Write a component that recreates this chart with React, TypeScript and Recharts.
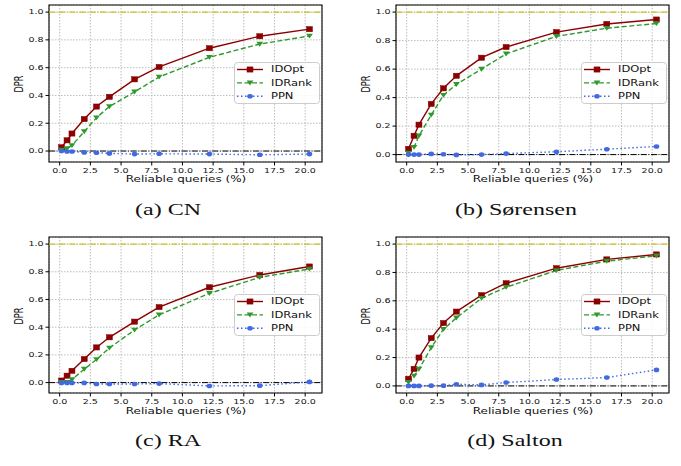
import { LineChart, Line, XAxis, YAxis, CartesianGrid, ReferenceLine, ReferenceArea, Legend } from "recharts";

// reliable queries (%) sampled in every panel
const XS = [0.15, 0.6, 1.0, 2.0, 3.0, 4.05, 6.1, 8.1, 12.2, 16.3, 20.35];
const X_TICKS = [0, 2.5, 5, 7.5, 10, 12.5, 15, 17.5, 20];
const Y_TICKS = [0, 0.2, 0.4, 0.6, 0.8, 1.0];

const CN_OPT = [0.027, 0.077, 0.126, 0.23, 0.32, 0.39, 0.516, 0.605, 0.74, 0.826, 0.877];
const CN_RANK = [0.007, 0.017, 0.04, 0.14, 0.24, 0.32, 0.426, 0.533, 0.675, 0.77, 0.828];
const CN_PPN = [0, -0.003, -0.003, -0.01, -0.012, -0.017, -0.022, -0.02, -0.022, -0.027, -0.022];

const SOR_OPT = [0.04, 0.132, 0.21, 0.356, 0.465, 0.553, 0.68, 0.755, 0.86, 0.917, 0.948];
const SOR_RANK = [0.01, 0.052, 0.132, 0.278, 0.417, 0.493, 0.6, 0.707, 0.83, 0.887, 0.92];
const SOR_PPN = [0, 0, 0, 0.005, 0.002, -0.002, 0, 0.007, 0.02, 0.038, 0.057];

const RA_OPT = [0.015, 0.05, 0.085, 0.17, 0.254, 0.327, 0.44, 0.545, 0.688, 0.777, 0.838];
const RA_RANK = [0.002, 0.002, 0.022, 0.097, 0.167, 0.25, 0.38, 0.489, 0.644, 0.76, 0.82];
const RA_PPN = [-0.002, -0.002, -0.002, -0.002, -0.01, -0.01, -0.01, -0.007, -0.024, -0.022, 0.005];

const SAL_OPT = [0.05, 0.12, 0.2, 0.337, 0.443, 0.524, 0.64, 0.724, 0.83, 0.892, 0.927];
const SAL_RANK = [0.026, 0.07, 0.118, 0.27, 0.4, 0.48, 0.618, 0.696, 0.814, 0.88, 0.917];
const SAL_PPN = [0, 0, 0, 0.002, 0.002, 0.012, 0.007, 0.024, 0.045, 0.059, 0.113];

const X_DOMAIN = [-0.87, 21.37];

const RED = "#8b0000";
const GREEN = "#2e9a2e";
const BLUE = "#4169e1";
const FONT = "DejaVu Sans";
// the source figure is squashed vertically, text included
const SQ = 0.68;

function rows(opt: number[], rank: number[], ppn: number[]) {
  return XS.map((x, i) => ({ x, opt: opt[i], rank: rank[i], ppn: ppn[i] }));
}

const Square = (p: any) =>
  p.cx == null ? null : (
    <rect key={`s${p.index}`} x={p.cx - 3} y={p.cy - 2.6} width={6} height={5.2} fill={RED} stroke={RED} strokeWidth={0.5} />
  );
const Tri = (p: any) =>
  p.cx == null ? null : (
    <path key={`t${p.index}`} d={`M${p.cx - 3.4},${p.cy - 2.3} L${p.cx + 3.4},${p.cy - 2.3} L${p.cx},${p.cy + 2.6} Z`} fill={GREEN} />
  );
const Dot = (p: any) =>
  p.cx == null ? null : <ellipse key={`c${p.index}`} cx={p.cx} cy={p.cy} rx={2.8} ry={2.3} fill={BLUE} />;

function XTick({ x, y, payload }: any) {
  return (
    <g transform={`translate(${x},${y})`}>
      <text transform={`scale(1,${SQ})`} textAnchor="middle" dy="0.8em" fontSize={9.5} fontFamily={FONT} fill="#111">
        {payload.value.toFixed(1)}
      </text>
    </g>
  );
}

function YTick({ x, y, payload }: any) {
  return (
    <g transform={`translate(${x},${y})`}>
      <text transform={`scale(1,${SQ})`} textAnchor="end" dy="0.36em" fontSize={9.5} fontFamily={FONT} fill="#111">
        {payload.value.toFixed(1)}
      </text>
    </g>
  );
}

function LegendBox() {
  const items = [
    { name: "IDOpt", color: RED, dash: undefined, mark: "s" },
    { name: "IDRank", color: GREEN, dash: "5 2.5", mark: "t" },
    { name: "PPN", color: BLUE, dash: "1.5 2.5", mark: "c" },
  ];
  return (
    <svg width={86} height={42} style={{ display: "block" }}>
      <rect x={0.5} y={0.5} width={85} height={41} rx={3} fill="rgba(255,255,255,0.85)" stroke="#cccccc" />
      {items.map((it, i) => {
        const cy = 7.5 + i * 13.4;
        return (
          <g key={it.name}>
            <line x1={3} x2={29} y1={cy} y2={cy} stroke={it.color} strokeWidth={1.4} strokeDasharray={it.dash} />
            {it.mark === "s" && Square({ cx: 16, cy, index: 0 })}
            {it.mark === "t" && Tri({ cx: 16, cy, index: 0 })}
            {it.mark === "c" && Dot({ cx: 16, cy, index: 0 })}
            <g transform={`translate(37,${cy})`}>
              <text transform={`scale(1,${SQ})`} dy="0.36em" fontSize={11.5} fontFamily={FONT} fill="#111">
                {it.name}
              </text>
            </g>
          </g>
        );
      })}
    </svg>
  );
}

function Panel({ left, top, width, height, yDomain, data }: any) {
  return (
    <div style={{ position: "absolute", left, top, width, height }}>
      <LineChart width={width} height={height} data={data} margin={{ top: 5, right: width - 322, left: 9, bottom: 0 }}>
        <CartesianGrid stroke="#b4b4b4" strokeDasharray="1.5 1.5" strokeWidth={0.9} />
        <XAxis
          dataKey="x"
          type="number"
          domain={X_DOMAIN}
          allowDataOverflow
          ticks={X_TICKS}
          interval={0}
          height={38}
          axisLine={false}
          tickSize={3.5}
          tickLine={{ stroke: "#000" }}
          tick={XTick}
        />
        <YAxis
          type="number"
          domain={yDomain}
          allowDataOverflow
          ticks={Y_TICKS}
          interval={0}
          width={40}
          axisLine={false}
          tickSize={3.5}
          tickLine={{ stroke: "#000" }}
          tick={YTick}
        />
        <ReferenceLine y={1} stroke="#c8c41a" strokeWidth={1.3} strokeDasharray="6 1.6 1 1.6" />
        <ReferenceLine y={0} stroke="#000" strokeWidth={1} strokeDasharray="6 1.6 1 1.6" />
        <Line dataKey="opt" stroke={RED} strokeWidth={1.4} dot={Square} isAnimationActive={false} />
        <Line dataKey="rank" stroke={GREEN} strokeWidth={1.4} strokeDasharray="5 2.5" dot={Tri} isAnimationActive={false} />
        <Line dataKey="ppn" stroke={BLUE} strokeWidth={1.4} strokeDasharray="1.5 2.5" dot={Dot} isAnimationActive={false} />
        <ReferenceArea
          x1={X_DOMAIN[0]}
          x2={X_DOMAIN[1]}
          y1={yDomain[0]}
          y2={yDomain[1]}
          fill="none"
          fillOpacity={0}
          stroke="#000"
          strokeWidth={1.1}
        />
        <Legend
          layout="horizontal"
          align="center"
          verticalAlign="middle"
          content={LegendBox}
          wrapperStyle={{ left: 234, top: 62, width: 86, height: 42 }}
        />
      </LineChart>
      <div
        style={{
          position: "absolute",
          left: 186,
          top: 179,
          transform: `translate(-50%,-50%) scaleY(${SQ})`,
          fontFamily: FONT,
          fontSize: 12,
          whiteSpace: "nowrap",
          color: "#111",
          lineHeight: 1,
        }}
      >
        Reliable queries (%)
      </div>
      <div
        style={{
          position: "absolute",
          left: 19,
          top: 84,
          transform: `translate(-50%,-50%) scaleY(${SQ}) rotate(-90deg)`,
          fontFamily: FONT,
          fontSize: 12,
          whiteSpace: "nowrap",
          color: "#111",
          lineHeight: 1,
        }}
      >
        DPR
      </div>
    </div>
  );
}

function Caption({ x, y, text }: any) {
  return (
    <div
      style={{
        position: "absolute",
        left: x,
        top: y,
        transform: `translate(-50%,-50%) scaleY(${SQ})`,
        fontFamily: "Liberation Serif",
        fontSize: 24,
        whiteSpace: "nowrap",
        color: "#111",
        lineHeight: 1,
      }}
    >
      {text}
    </div>
  );
}

export default function App() {
  return (
    <div style={{ position: "absolute", left: 0, top: 0, width: 681, height: 466, background: "#fff", overflow: "hidden" }}>
      <Panel left={0} top={0} width={340} height={200} yDomain={[-0.079, 1.051]} data={rows(CN_OPT, CN_RANK, CN_PPN)} />
      <Panel left={347} top={0} width={334} height={200} yDomain={[-0.052, 1.05]} data={rows(SOR_OPT, SOR_RANK, SOR_PPN)} />
      <Panel left={0} top={232} width={340} height={199} yDomain={[-0.075, 1.051]} data={rows(RA_OPT, RA_RANK, RA_PPN)} />
      <Panel left={347} top={232} width={334} height={199} yDomain={[-0.05, 1.05]} data={rows(SAL_OPT, SAL_RANK, SAL_PPN)} />
      <Caption x={168} y={210} text="(a) CN" />
      <Caption x={516} y={210} text="(b) Sørensen" />
      <Caption x={168} y={441} text="(c) RA" />
      <Caption x={515} y={441} text="(d) Salton" />
    </div>
  );
}
